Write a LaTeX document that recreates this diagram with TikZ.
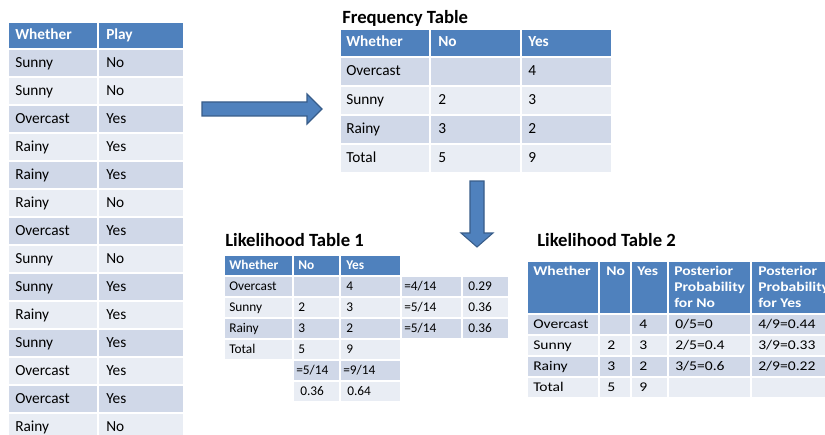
\documentclass[tikz,border=0pt]{standalone}
\usepackage{fontspec}
\setmainfont{Carlito}
\newfontfamily\widefont[FakeStretch=1.17]{Carlito}
\newcommand\tabbig{\fontsize{11.5}{14}\selectfont}
\newcommand\tabsmall{\fontsize{10}{12}\selectfont}
\newcommand\tabwide{\widefont\fontsize{10}{12}\selectfont}
\definecolor{hdblue}{HTML}{4F81BD}
\definecolor{rowdark}{HTML}{D0D8E8}
\definecolor{rowlight}{HTML}{E9EDF4}
\definecolor{arrowedge}{HTML}{385D8A}
\tikzset{
  headrow/.style={fill=hdblue,draw=white,line width=1.5pt},
  darkrow/.style={fill=rowdark,draw=white,line width=1.5pt},
  lightrow/.style={fill=rowlight,draw=white,line width=1.5pt},
  cellbase/.style={anchor=west,inner sep=0pt,text height=1.5ex,text depth=.25ex},
  bigcell/.style={cellbase,font=\tabbig},
  bighead/.style={cellbase,font=\tabbig\bfseries,text=white},
  smallcell/.style={cellbase,font=\tabsmall},
  smallhead/.style={cellbase,font=\tabsmall\bfseries,text=white},
  widecell/.style={cellbase,font=\tabwide},
  widehead/.style={cellbase,font=\tabwide\bfseries,text=white},
  posthead/.style={anchor=north west,inner sep=0pt,align=left,font=\tabwide\bfseries,text=white},
  titletext/.style={anchor=west,inner sep=0pt,font=\fontsize{14}{16}\selectfont\bfseries},
  blockarrow/.style={fill=hdblue,draw=arrowedge,line width=0.8pt,line join=miter}
}
\begin{document}
\begin{tikzpicture}[x=0.75pt,y=-0.75pt]
\clip (0,0) rectangle (825,435);
\fill[white] (0,0) rectangle (825,435);
\path[headrow] (8,22) rectangle (98,49) (98,22) rectangle (184,49);
\node[bighead] (play-h1) at (15,35.5) {Whether};
\node[bighead] (play-h2) at (106,35.5) {Play};
\foreach \w/\p [count=\i] in {Sunny/No,Sunny/No,Overcast/Yes,Rainy/Yes,Rainy/Yes,Rainy/No,Overcast/Yes,Sunny/No,Sunny/Yes,Rainy/Yes,Sunny/Yes,Overcast/Yes,Overcast/Yes,Rainy/No}{
  \pgfmathsetmacro\yt{49+28*(\i-1)}
  \ifodd\i\relax\def\rowfill{darkrow}\else\def\rowfill{lightrow}\fi
  \path[\rowfill] (8,\yt) rectangle (98,\yt+28) (98,\yt) rectangle (184,\yt+28);
  \node[bigcell] (play-\i-1) at (15,\yt+14.5) {\w};
  \node[bigcell] (play-\i-2) at (106,\yt+14.5) {\p};
}
\filldraw[blockarrow] (202,102) -- (307,102) -- (307,94) -- (322,109) -- (307,124) -- (307,116) -- (202,116) -- cycle;
\node[titletext] (freqtitle) at (342,18) {Frequency Table};
\path[headrow] (340,29) rectangle (430,57) (430,29) rectangle (521,57) (521,29) rectangle (612,57);
\node[bighead] (freq-h1) at (346,43) {Whether};
\node[bighead] (freq-h2) at (438,43) {No};
\node[bighead] (freq-h3) at (528,43) {Yes};
\foreach \w/\nn/\yy [count=\i] in {Overcast//4,Sunny/2/3,Rainy/3/2,Total/5/9}{
  \pgfmathsetmacro\yt{57+29*(\i-1)}
  \ifodd\i\relax\def\rowfill{darkrow}\else\def\rowfill{lightrow}\fi
  \path[\rowfill] (340,\yt) rectangle (430,\yt+29) (430,\yt) rectangle (521,\yt+29) (521,\yt) rectangle (612,\yt+29);
  \node[bigcell] (freq-\i-1) at (346,\yt+15) {\w};
  \node[bigcell] (freq-\i-2) at (438,\yt+15) {\nn};
  \node[bigcell] (freq-\i-3) at (528,\yt+15) {\yy};
}
\filldraw[blockarrow] (470,181) -- (484,181) -- (484,233) -- (493,233) -- (477,247) -- (461,233) -- (470,233) -- cycle;
\node[titletext] (liketitle1) at (225,240) {Likelihood Table 1};
\path[headrow] (224,255) rectangle (293,276) (293,255) rectangle (340,276) (340,255) rectangle (401,276);
\node[smallhead] (likeA-h1) at (229,265.5) {Whether};
\node[smallhead] (likeA-h2) at (298,265.5) {No};
\node[smallhead] (likeA-h3) at (346,265.5) {Yes};
\foreach \w/\nn/\yy [count=\i] in {Overcast//4,Sunny/2/3,Rainy/3/2,Total/5/9}{
  \pgfmathsetmacro\yt{276+21*(\i-1)}
  \ifodd\i\relax\def\rowfill{darkrow}\else\def\rowfill{lightrow}\fi
  \path[\rowfill] (224,\yt) rectangle (293,\yt+21) (293,\yt) rectangle (340,\yt+21) (340,\yt) rectangle (401,\yt+21);
  \node[smallcell] (likeA-\i-1) at (229,\yt+10.5) {\w};
  \node[smallcell] (likeA-\i-2) at (298,\yt+10.5) {\nn};
  \node[smallcell] (likeA-\i-3) at (346,\yt+10.5) {\yy};
}
\foreach \fr/\pr [count=\i] in {{=4/14}/0.29,{=5/14}/0.36,{=5/14}/0.36}{
  \pgfmathsetmacro\yt{276+21*(\i-1)}
  \ifodd\i\relax\def\rowfill{darkrow}\else\def\rowfill{lightrow}\fi
  \path[\rowfill] (401,\yt) rectangle (462,\yt+21) (462,\yt) rectangle (509,\yt+21);
  \node[smallcell] (likeA-\i-4) at (404,\yt+10.5) {\fr};
  \node[smallcell] (likeA-\i-5) at (468,\yt+10.5) {\pr};
}
\path[darkrow] (293,360) rectangle (340,381) (340,360) rectangle (401,381);
\path[lightrow] (293,381) rectangle (340,402) (340,381) rectangle (401,402);
\node[smallcell] (likeA-5-2) at (296,370.5) {=5/14};
\node[smallcell] (likeA-5-3) at (343,370.5) {=9/14};
\node[smallcell] (likeA-6-2) at (300,391.5) {0.36};
\node[smallcell] (likeA-6-3) at (347,391.5) {0.64};
\node[titletext] (liketitle2) at (537,240) {Likelihood Table 2};
\path[headrow] (527,261) rectangle (599,314) (599,261) rectangle (631,314) (631,261) rectangle (668,314) (668,261) rectangle (751,314) (751,261) rectangle (834,314);
\node[widehead] (likeB-h1) at (533,272) {Whether};
\node[widehead] (likeB-h2) at (606,272) {No};
\node[widehead] (likeB-h3) at (637,272) {Yes};
\node[posthead] (likeB-h4) at (674,266) {Posterior\\Probability\\for No};
\node[posthead] (likeB-h5) at (758,266) {Posterior\\Probability\\for Yes};
\foreach \w/\nn/\yy/\pn/\py [count=\i] in {Overcast//4/{0/5=0}/{4/9=0.44},Sunny/2/3/{2/5=0.4}/{3/9=0.33},Rainy/3/2/{3/5=0.6}/{2/9=0.22},Total/5/9//}{
  \pgfmathsetmacro\yt{314+21*(\i-1)}
  \ifodd\i\relax\def\rowfill{darkrow}\else\def\rowfill{lightrow}\fi
  \path[\rowfill] (527,\yt) rectangle (599,\yt+21) (599,\yt) rectangle (631,\yt+21) (631,\yt) rectangle (668,\yt+21) (668,\yt) rectangle (751,\yt+21) (751,\yt) rectangle (834,\yt+21);
  \node[widecell] (likeB-\i-1) at (533,\yt+10.5) {\w};
  \node[widecell] (likeB-\i-2) at (607,\yt+10.5) {\nn};
  \node[widecell] (likeB-\i-3) at (639,\yt+10.5) {\yy};
  \node[widecell] (likeB-\i-4) at (675,\yt+10.5) {\pn};
  \node[widecell] (likeB-\i-5) at (758,\yt+10.5) {\py};
}
\end{tikzpicture}
\end{document}
